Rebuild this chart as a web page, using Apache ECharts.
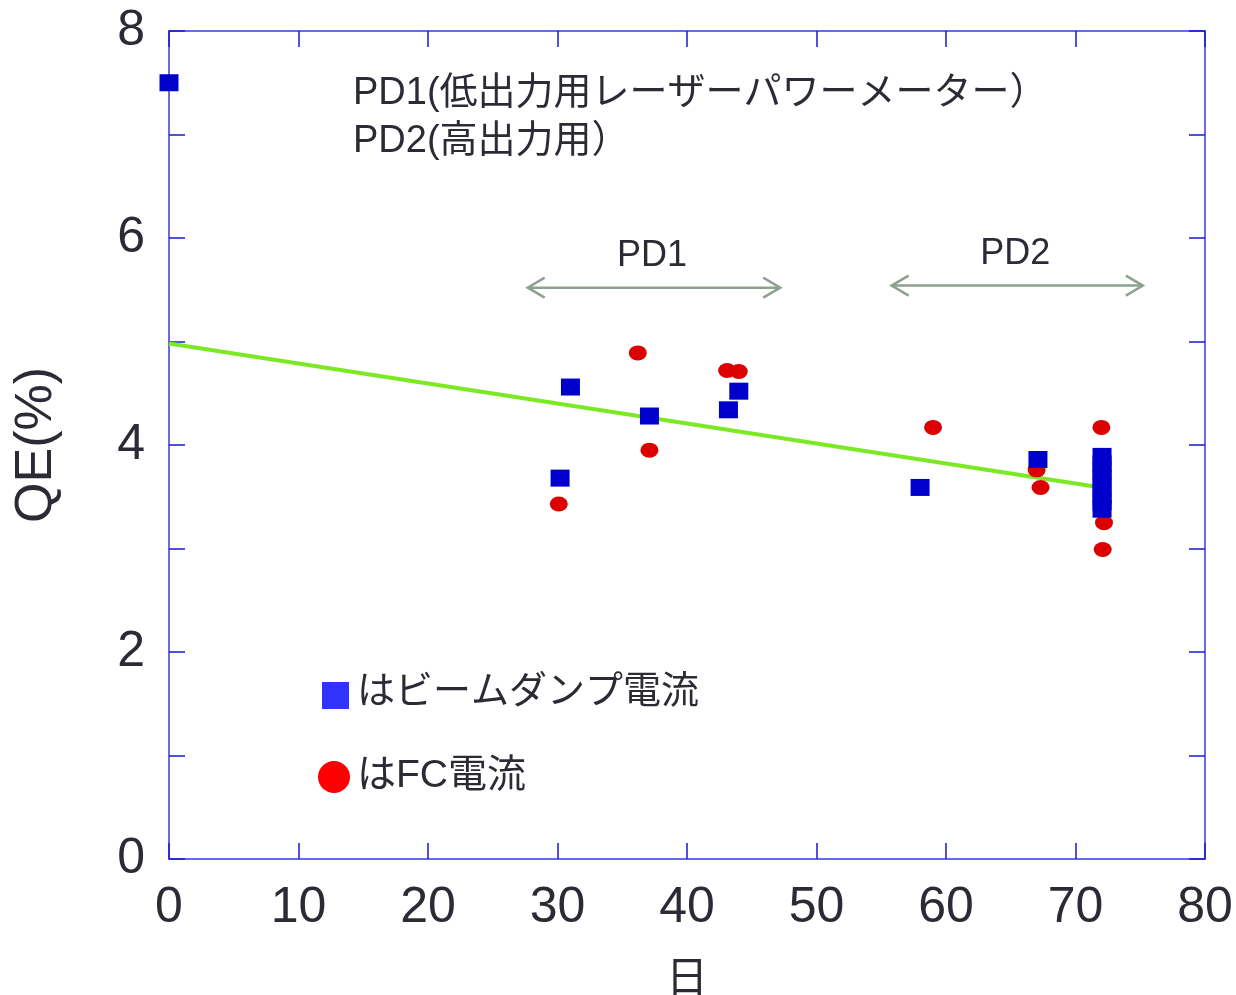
<!DOCTYPE html>
<html>
<head>
<meta charset="utf-8">
<script src="https://cdn.jsdelivr.net/npm/echarts@6/dist/echarts.min.js"></script>
<style>
  html, body { margin: 0; padding: 0; background: #fff; }
  #chart { width: 1236px; height: 995px; }
</style>
</head>
<body>
<div id="chart"></div>
<script>
// QE measurements over days: beam dump current (squares) and FC current (circles)
const beamDumpQE = [
  [0, 7.5], [30.2, 3.68], [31.0, 4.56], [37.1, 4.28], [43.2, 4.34], [44.0, 4.52],
  [58.0, 3.59], [67.1, 3.86],
  [72.05, 3.89], [72.05, 3.82], [72.05, 3.75], [72.05, 3.68], [72.05, 3.60],
  [72.05, 3.52], [72.05, 3.45], [72.05, 3.38]
];
const fcQE = [
  [30.1, 3.43], [36.2, 4.89], [37.1, 3.95], [43.1, 4.72], [44.0, 4.71],
  [59.0, 4.17], [67.0, 3.76], [67.3, 3.59],
  [72.0, 4.17], [72.1, 3.45], [72.2, 3.25], [72.1, 2.99]
];
// linear trend of QE
const trendLine = [[0, 4.98], [72, 3.59]];
// measurement periods per power meter: [start day, end day, y level]
const pdRanges = [[27.7, 47.2, 5.52], [55.8, 75.2, 5.54]];
const pdNames = ['PD1', 'PD2'];
const xTicks = [0, 10, 20, 30, 40, 50, 60, 70, 80];
const yLabelled = [0, 2, 4, 6, 8];

const FONT = "'Liberation Sans', Arial, 'Noto Sans CJK JP', sans-serif";
const TEXT = '#2b2b36';
const AXIS_LINE = '#6a6ae4';
const AXIS_TICK = '#1a1ad0';

const chart = echarts.init(document.getElementById('chart'), null, { renderer: 'canvas' });

const baseX = {
  type: 'value', min: xTicks[0], max: xTicks[xTicks.length - 1], interval: 10,
  splitLine: { show: false },
  axisLine: { show: true, onZero: false, lineStyle: { color: AXIS_LINE, width: 2 } },
  axisTick: { show: true, inside: true, length: 16, lineStyle: { color: AXIS_TICK, width: 1.5 } }
};
const baseY = {
  type: 'value', min: 0, max: 8, interval: 1,
  splitLine: { show: false },
  axisLine: { show: true, onZero: false, lineStyle: { color: AXIS_LINE, width: 2 } },
  axisTick: { show: true, inside: true, length: 16, lineStyle: { color: AXIS_TICK, width: 1.5 } }
};

const option = {
  backgroundColor: '#fff',
  animation: false,
  grid: { left: 169, top: 31, width: 1036, height: 828, containLabel: false, outerBoundsMode: 'none' },
  xAxis: [
    Object.assign({}, baseX, {
      position: 'bottom',
      name: '日', nameLocation: 'middle', nameGap: 100,
      nameTextStyle: { fontSize: 42, color: TEXT, fontFamily: FONT },
      axisLabel: { show: true, margin: 24, fontSize: 50, color: TEXT, fontFamily: FONT }
    }),
    Object.assign({}, baseX, { position: 'top', axisLabel: { show: false } })
  ],
  yAxis: [
    Object.assign({}, baseY, {
      position: 'left',
      name: 'QE(%)', nameLocation: 'middle', nameGap: 106, nameRotate: 90,
      nameTextStyle: { fontSize: 52, color: TEXT, fontFamily: FONT, padding: [0, 0, 0, 0] },
      axisLabel: {
        show: true, margin: 24, fontSize: 50, color: TEXT, fontFamily: FONT,
        formatter: v => (yLabelled.indexOf(v) >= 0 ? String(v) : '')
      }
    }),
    Object.assign({}, baseY, { position: 'right', axisLabel: { show: false } })
  ],
  series: [
    {
      type: 'line', data: trendLine, showSymbol: false, symbol: 'none',
      lineStyle: { color: '#7bea25', width: 4 }, z: 2, silent: true
    },
    {
      type: 'custom', z: 3, silent: true,
      data: pdRanges,
      renderItem: function (params, api) {
        const a = api.coord([api.value(0), api.value(2)]);
        const b = api.coord([api.value(1), api.value(2)]);
        const s = { stroke: '#8ea190', lineWidth: 2.5, fill: null };
        return {
          type: 'group',
          children: [
            { type: 'line', shape: { x1: a[0], y1: a[1], x2: b[0], y2: b[1] }, style: s },
            { type: 'polyline', shape: { points: [[a[0] + 17, a[1] - 10], [a[0], a[1]], [a[0] + 17, a[1] + 10]] }, style: s },
            { type: 'polyline', shape: { points: [[b[0] - 17, b[1] - 10], [b[0], b[1]], [b[0] - 17, b[1] + 10]] }, style: s },
            {
              type: 'text',
              style: {
                x: (a[0] + b[0]) / 2 - 2, y: a[1] - 32, text: pdNames[params.dataIndex],
                fontSize: 36, fontFamily: FONT, fill: TEXT, align: 'center', verticalAlign: 'middle'
              }
            }
          ]
        };
      }
    },
    {
      name: 'はFC電流', type: 'scatter', data: fcQE, z: 4,
      symbol: 'circle', symbolSize: [18, 15],
      itemStyle: { color: '#dd0000', opacity: 1 }
    },
    {
      name: 'はビームダンプ電流', type: 'scatter', data: beamDumpQE, z: 5,
      symbol: 'rect', symbolSize: [19, 17],
      itemStyle: { color: '#0000cc', opacity: 1 }
    }
  ],
  graphic: [
    {
      type: 'text', left: 353, top: 70, z: 10,
      style: {
        text: 'PD1(低出力用レーザーパワーメーター）\nPD2(高出力用）',
        fontSize: 38, lineHeight: 48, fontFamily: FONT, fill: TEXT
      }
    },
    { type: 'rect', left: 322, top: 682, shape: { width: 27, height: 27 }, style: { fill: '#3333ff' }, z: 10 },
    {
      type: 'text', left: 357, top: 674, z: 10,
      style: { text: 'はビームダンプ電流', fontSize: 38, fontFamily: FONT, fill: TEXT }
    },
    { type: 'circle', shape: { cx: 334, cy: 777, r: 16 }, style: { fill: '#ff0000' }, z: 10 },
    {
      type: 'text', left: 357, top: 757, z: 10,
      style: { text: 'はFC電流', fontSize: 39, fontFamily: FONT, fill: TEXT }
    }
  ]
};

chart.setOption(option);
</script>
</body>
</html>
